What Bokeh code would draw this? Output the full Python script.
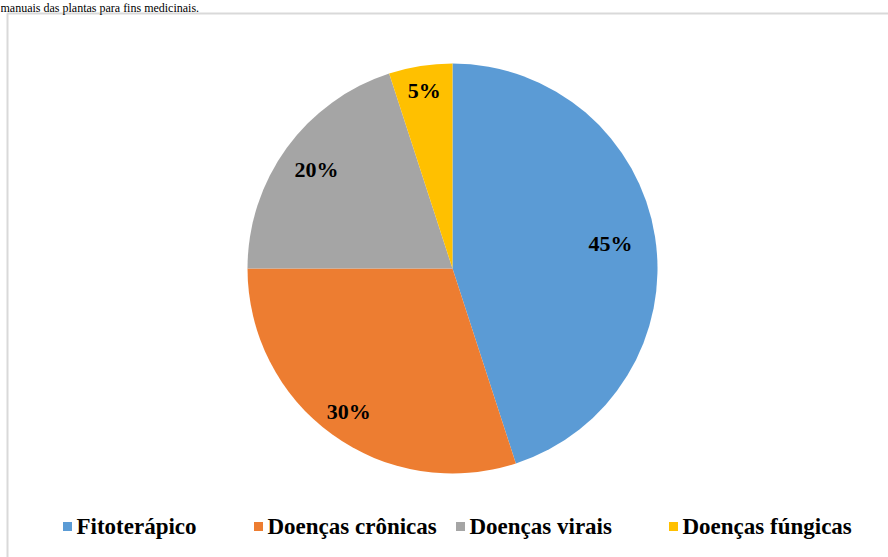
import math
from bokeh.plotting import figure
from bokeh.models import Range1d, ColumnDataSource
from bokeh.core.properties import value
from bokeh.embed import file_html
from bokeh.resources import INLINE

# ---- data ----
categories = ["Fitoterápico", "Doenças crônicas", "Doenças virais", "Doenças fúngicas"]
percent = [45, 30, 20, 5]
labels = ["45%", "30%", "20%", "5%"]
colors = ["#5B9BD5", "#ED7D31", "#A5A5A5", "#FFC000"]
caption = "manuais das plantas para fins medicinais."

# ---- layout (screen pixel units, y up) ----
W, H = 888, 557
cx, cy, R = 452, H - 268, 205
label_frac = [0.78, 0.86, 0.82, 0.88]
legend_x = [67, 258, 460, 673]
legend_y = H - 526
SERIF = value("'Liberation Serif', 'Times New Roman', serif")

p = figure(width=W, height=H, x_range=Range1d(0, W), y_range=Range1d(0, H),
           x_axis_type=None, y_axis_type=None, toolbar_location=None,
           output_backend="svg", min_border=0, outline_line_color=None,
           background_fill_color="white", border_fill_color="white")
p.grid.visible = False

total = sum(percent)
starts, ends, lx, ly = [], [], [], []
cum = 0.0
for v, f in zip(percent, label_frac):
    a0 = math.pi / 2 - 2 * math.pi * cum / total
    cum += v
    a1 = math.pi / 2 - 2 * math.pi * cum / total
    starts.append(a0)
    ends.append(a1)
    mid = (a0 + a1) / 2
    lx.append(cx + f * R * math.cos(mid))
    ly.append(cy + f * R * math.sin(mid))

src = ColumnDataSource(dict(cat=categories, pct=percent, start=starts, end=ends,
                            color=colors, lab=labels, lx=lx, ly=ly))

# frame border
p.line(x=[W, 7, 7], y=[H - 13, H - 13, 0], line_color="#D9D9D9", line_width=2)

p.wedge(x=cx, y=cy, radius=R, start_angle="start", end_angle="end",
        direction="clock", fill_color="color", line_color=None, source=src)

p.text(x="lx", y="ly", text="lab", source=src, text_align="center",
       text_baseline="middle", text_font=SERIF,
       text_font_style="bold", text_font_size="22px", text_color="black")

# legend
leg = ColumnDataSource(dict(x=legend_x, y=[legend_y] * 4, tx=[v + 9 for v in legend_x],
                            cat=categories, color=colors))
p.scatter(x="x", y="y", marker="square", size=9, fill_color="color",
          line_color=None, source=leg)
p.text(x="tx", y="y", text="cat", source=leg, text_align="left",
       text_baseline="middle", text_font=SERIF,
       text_font_style="bold", text_font_size="23px", text_color="black")

# caption at the top (partially cut in the reference)
p.text(x=[0], y=[H], text=[caption], text_align="left",
       text_baseline="top", text_font=SERIF,
       text_font_size="12px", text_color="black")

open("out.html", "w").write(file_html(p, INLINE))
